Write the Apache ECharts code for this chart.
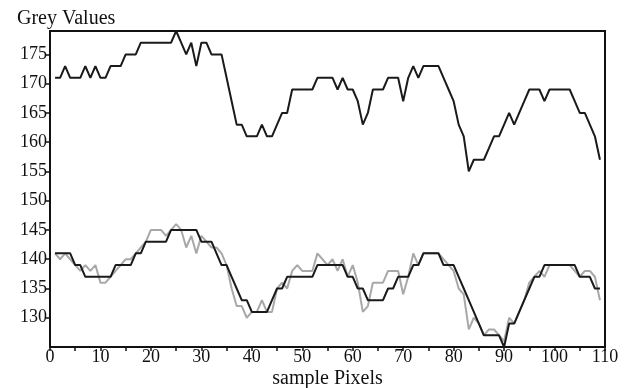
<!DOCTYPE html>
<html>
<head>
<meta charset="utf-8">
<script src="https://cdn.jsdelivr.net/npm/echarts@6/dist/echarts.min.js"></script>
<style>
  html, body { margin: 0; padding: 0; background: #fff; }
  #chart { width: 626px; height: 388px; }
</style>
</head>
<body>
<div id="chart"></div>
<script>
// sample pixel index 1..109
const samples = Array.from({ length: 109 }, (_, i) => i + 1);

const upperLine = [
  171, 171, 173, 171, 171, 171, 173, 171, 173, 171,
  171, 173, 173, 173, 175, 175, 175, 177, 177, 177,
  177, 177, 177, 177, 179, 177, 175, 177, 173, 177,
  177, 175, 175, 175, 171, 167, 163, 163, 161, 161,
  161, 163, 161, 161, 163, 165, 165, 169, 169, 169,
  169, 169, 171, 171, 171, 171, 169, 171, 169, 169,
  167, 163, 165, 169, 169, 169, 171, 171, 171, 167,
  171, 173, 171, 173, 173, 173, 173, 171, 169, 167,
  163, 161, 155, 157, 157, 157, 159, 161, 161, 163,
  165, 163, 165, 167, 169, 169, 169, 167, 169, 169,
  169, 169, 169, 167, 165, 165, 163, 161, 157
];

const lowerBlack = [
  141, 141, 141, 141, 139, 139, 137, 137, 137, 137,
  137, 137, 139, 139, 139, 139, 141, 141, 143, 143,
  143, 143, 143, 145, 145, 145, 145, 145, 145, 143,
  143, 143, 141, 139, 139, 137, 135, 133, 133, 131,
  131, 131, 131, 133, 135, 135, 137, 137, 137, 137,
  137, 137, 139, 139, 139, 139, 139, 139, 137, 137,
  135, 135, 133, 133, 133, 133, 135, 135, 137, 137,
  137, 139, 139, 141, 141, 141, 141, 139, 139, 139,
  137, 135, 133, 131, 129, 127, 127, 127, 127, 125,
  129, 129, 131, 133, 135, 137, 137, 139, 139, 139,
  139, 139, 139, 139, 137, 137, 137, 135, 135
];

const lowerGrey = [
  141, 140, 141, 140, 139, 138, 139, 138, 139, 136,
  136, 137, 138, 139, 140, 140, 141, 142, 143, 145,
  145, 145, 144, 145, 146, 145, 142, 144, 141, 144,
  143, 142, 142, 141, 139, 135, 132, 132, 130, 131,
  131, 133, 131, 131, 135, 136, 135, 138, 139, 138,
  138, 138, 141, 140, 139, 140, 138, 140, 137, 139,
  136, 131, 132, 136, 136, 136, 138, 138, 138, 134,
  137, 141, 139, 141, 141, 141, 141, 140, 139, 138,
  135, 134, 128, 130, 129, 127, 128, 128, 127, 126,
  130, 129, 131, 133, 136, 137, 138, 137, 139, 139,
  139, 139, 139, 138, 137, 138, 138, 137, 133
];

const pairs = (ys) => samples.map((x, i) => [x, ys[i]]);

const serif = "'Liberation Serif', 'DejaVu Serif', serif";

const chart = echarts.init(document.getElementById("chart"));

chart.setOption({
  animation: false,
  backgroundColor: "#fff",
  title: {
    text: "Grey Values",
    left: 12,
    top: 4,
    textStyle: { fontFamily: serif, fontSize: 20, fontWeight: "normal", color: "#111" },
  },
  grid: {
    left: 50,
    right: 21,
    top: 31,
    bottom: 41,
    outerBoundsMode: "none",
    containLabel: false,
    show: true,
    borderColor: "#111",
    borderWidth: 2,
  },
  xAxis: {
    type: "value",
    min: 0,
    max: 110,
    interval: 5,
    name: "sample Pixels",
    nameLocation: "middle",
    nameGap: 22,
    nameMoveOverlap: false,
    nameTextStyle: { fontFamily: serif, fontSize: 20, color: "#111" },
    axisLine: { lineStyle: { color: "#111", width: 2 } },
    axisTick: { length: 4, lineStyle: { color: "#111", width: 1.5 } },
    axisLabel: {
      margin: 1,
      fontFamily: serif,
      fontSize: 18,
      color: "#111",
      formatter: (v) => (v % 10 === 0 ? String(v) : ""),
    },
    splitLine: { show: false },
  },
  yAxis: {
    type: "value",
    min: 125,
    max: 179,
    interval: 5,
    axisLine: { show: true, lineStyle: { color: "#111", width: 2 } },
    axisTick: { show: true, length: 4, lineStyle: { color: "#111", width: 1.5 } },
    axisLabel: {
      margin: 3,
      fontFamily: serif,
      fontSize: 18,
      color: "#111",
      showMinLabel: false,
      showMaxLabel: false,
      formatter: (v) => (v === 125 ? "" : String(v)),
    },
    splitLine: { show: false },
  },
  series: [
    {
      name: "lower grey",
      type: "line",
      data: pairs(lowerGrey),
      showSymbol: false,
      lineStyle: { color: "#a8a8a8", width: 2 },
      z: 2,
    },
    {
      name: "lower black",
      type: "line",
      data: pairs(lowerBlack),
      showSymbol: false,
      lineStyle: { color: "#1a1a1a", width: 2 },
      z: 3,
    },
    {
      name: "upper",
      type: "line",
      data: pairs(upperLine),
      showSymbol: false,
      lineStyle: { color: "#1a1a1a", width: 2 },
      z: 3,
    },
  ],
});
</script>
</body>
</html>
